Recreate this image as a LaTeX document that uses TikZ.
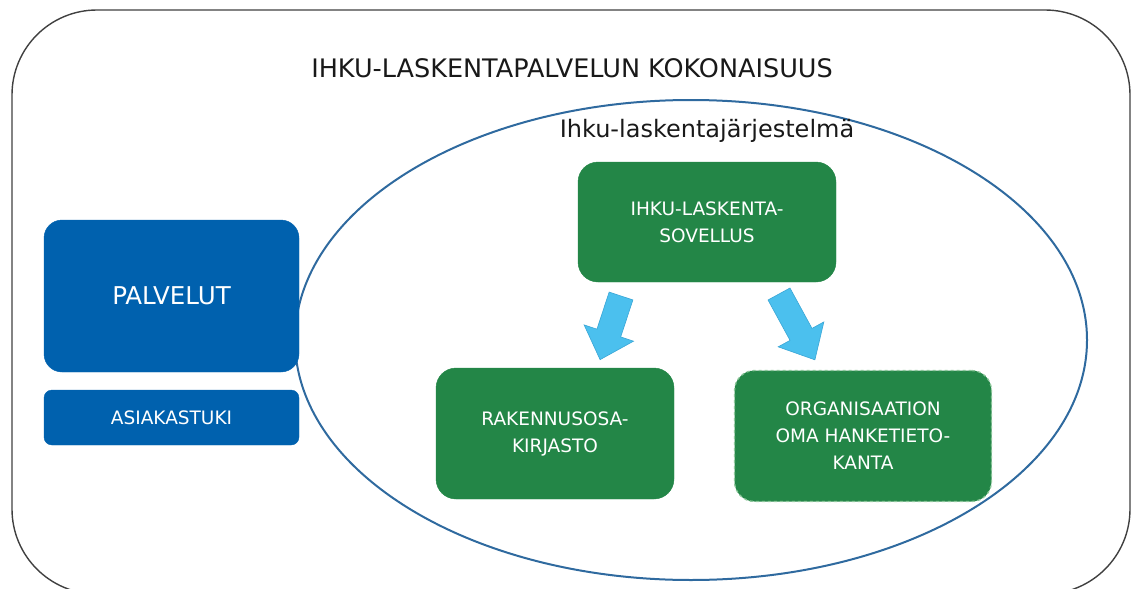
\documentclass[tikz,border=0pt]{standalone}
\usepackage{fontspec}
\usetikzlibrary{shapes.geometric}
\setmainfont{DejaVu Sans}
\definecolor{boxgreen}{HTML}{238647}
\definecolor{boxblue}{HTML}{0061AE}
\definecolor{ellblue}{HTML}{2F6A9F}
\definecolor{arrowblue}{HTML}{4BC0EE}
\definecolor{arrowedge}{HTML}{3AA6D6}
\definecolor{dashgreen}{HTML}{8CC79A}
\tikzset{
  greenbox/.style={rectangle, rounded corners=20pt, fill=boxgreen, draw=boxgreen,
    text=white, align=center, font=\fontsize{18.5}{27}\selectfont},
  bluebox/.style={rectangle, rounded corners=18pt, fill=boxblue, draw=boxblue,
    text=white, align=center},
  blockarrow/.style={fill=arrowblue, draw=arrowedge, line width=0.6pt, line join=miter},
}
\begin{document}
\begin{tikzpicture}[x=1pt,y=-1pt]
\useasboundingbox (0,0) rectangle (1133,589);
\clip (0,0) rectangle (1133,589);
% outer frame
\draw[line width=1.4pt, draw=black!75, rounded corners=85pt] (12,10) rectangle (1130,594);
\node[font=\fontsize{25.5}{30}\selectfont, text=black!90] (title) at (572,68) {IHKU-LASKENTAPALVELUN KOKONAISUUS};
% ellipse
\node[ellipse, draw=ellblue, line width=2pt, minimum width=792pt, minimum height=480pt, inner sep=0pt] (sys) at (691,340) {};
\node[font=\fontsize{24}{28}\selectfont, text=black!90] (syslabel) at (707,131) {Ihku-laskentajärjestelmä};
% green boxes
\node[greenbox, minimum width=258pt, minimum height=120pt] (app) at (707,222) {IHKU-LASKENTA-\\SOVELLUS};
\node[greenbox, minimum width=238pt, minimum height=131pt] (lib) at (555,433.5) {RAKENNUSOSA-\\KIRJASTO};
\node[greenbox, draw=dashgreen, dash pattern=on 3pt off 3pt, line width=1.3pt, minimum width=257pt, minimum height=131pt] (db) at (863,436) {ORGANISAATION\\OMA HANKETIETO-\\KANTA};
% blue boxes
\node[bluebox, minimum width=255pt, minimum height=152pt, font=\fontsize{24.5}{28}\selectfont] (palv) at (171.5,296) {PALVELUT};
\node[bluebox, rounded corners=8pt, minimum width=255pt, minimum height=55pt, font=\fontsize{18.5}{22}\selectfont] (tuki) at (171.5,417.5) {ASIAKASTUKI};
% block arrows
\begin{scope}[shift={(621,296)}, rotate=251.8]
\draw[blockarrow] (0,-12.5) -- (39,-12.5) -- (39,-26) -- (67,0) -- (39,26) -- (39,12.5) -- (0,12.5) -- cycle;
\end{scope}
\begin{scope}[shift={(779,294)}, rotate=-61.4]
\draw[blockarrow] (0,-12.5) -- (46,-12.5) -- (46,-26) -- (75,0) -- (46,26) -- (46,12.5) -- (0,12.5) -- cycle;
\end{scope}
\end{tikzpicture}
\end{document}
